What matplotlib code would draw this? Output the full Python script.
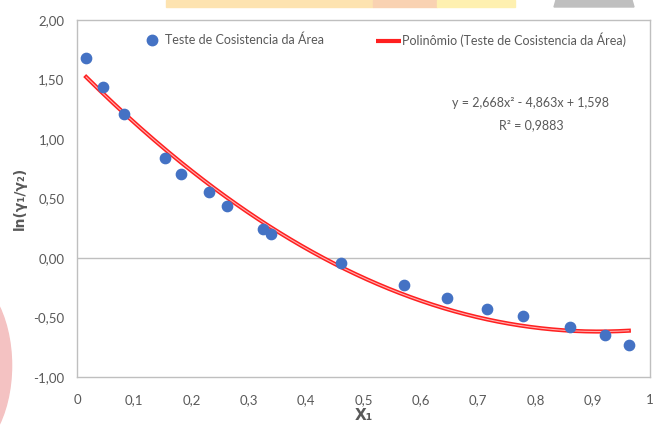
import numpy as np
import matplotlib.pyplot as plt
from matplotlib import font_manager
from matplotlib.patches import Rectangle, Ellipse, Polygon
from matplotlib.lines import Line2D

# data
x1 = [0.016, 0.045, 0.082, 0.154, 0.182, 0.230, 0.262, 0.325, 0.339,
      0.461, 0.571, 0.646, 0.716, 0.778, 0.860, 0.921, 0.963]
ln_ratio = [1.68, 1.44, 1.21, 0.84, 0.71, 0.555, 0.437, 0.24, 0.20,
            -0.04, -0.227, -0.336, -0.43, -0.49, -0.58, -0.647, -0.73]
# trendline coefficients shown on the chart (a*x^2 + b*x + c)
poly_coef = [2.668, -4.863, 1.598]
equation = "y = 2,668x² - 4,863x + 1,598"
r2_text = "R² = 0,9883"
series_name = "Teste de Cosistencia da Área"
trend_name = "Polinômio (Teste de Cosistencia da Área)"
xticks = [0, 0.1, 0.2, 0.3, 0.4, 0.5, 0.6, 0.7, 0.8, 0.9, 1.0]
xticklabels = ["0", "0,1", "0,2", "0,3", "0,4", "0,5", "0,6", "0,7", "0,8", "0,9", "1"]
yticks = [-1.0, -0.5, 0.0, 0.5, 1.0, 1.5, 2.0]
yticklabels = ["-1,00", "-0,50", "0,00", "0,50", "1,00", "1,50", "2,00"]

# Calibri-like narrow font if there is one
names = {f.name for f in font_manager.fontManager.ttflist}
if 'Liberation Sans Narrow' in names:
    main_font, fs = 'Liberation Sans Narrow', 10.5
else:
    main_font, fs = 'Lato', 9
plt.rcParams['font.family'] = [main_font, 'DejaVu Sans']
gray = '#595959'

fig = plt.figure(figsize=(6.62, 4.25), dpi=100)
W, H = 662.0, 425.0

# slide background decorations
def band(x0, x1_, color):
    fig.patches.append(Rectangle((x0 / W, 1 - 7 / H), (x1_ - x0) / W, 7 / H,
                                 transform=fig.transFigure, color=color, zorder=0))
band(166, 373, '#FDE3B0')
band(373, 437, '#F9D2B2')
band(437, 515, '#FEF0B0')
fig.patches.append(Polygon([(556 / W, 1.0), (632 / W, 1.0), (634 / W, 1 - 7 / H), (554 / W, 1 - 7 / H)],
                           closed=True, transform=fig.transFigure, color='#BFBFBF', zorder=0))
fig.patches.append(Ellipse((-0.065, 0.14), 0.165, 0.44, transform=fig.transFigure,
                           color='#F4C2C2', zorder=0))

ax = fig.add_axes([77 / W, 1 - 377 / H, 573 / W, 357 / H])
ax.set_facecolor('white')

ax.scatter(x1, ln_ratio, s=55, color='#4472C4', zorder=3)

xs = np.linspace(min(x1), max(x1), 200)
ys = np.polyval(poly_coef, xs)
ax.plot(xs, ys, color='#FF2020', lw=3, zorder=2)
ax.plot(xs, ys, color='#FFB0B0', lw=0.8, zorder=2)

ax.axhline(0, color='#BFBFBF', lw=1, zorder=1)

ax.set_xlim(0, 1)
ax.set_ylim(-1, 2)
ax.set_xticks(xticks)
ax.set_xticklabels(xticklabels)
ax.set_yticks(yticks)
ax.set_yticklabels(yticklabels)
ax.tick_params(length=0, labelsize=fs + 0.5, colors=gray)
ax.tick_params(axis='x', pad=12)
ax.tick_params(axis='y', pad=9)

for s in ax.spines.values():
    s.set_color('#BFBFBF')
    s.set_linewidth(1)

ax.set_xlabel('X₁', fontsize=11, fontweight='bold', color=gray, labelpad=2,
              family=['DejaVu Sans'])
ax.set_ylabel('ln(γ₁/γ₂)', fontsize=10, fontweight='bold', color=gray, labelpad=5,
              family=['DejaVu Sans'])

ax.text(0.792, 1.30, equation, fontsize=fs, color=gray, ha='center', va='center')
ax.text(0.792, 1.12, r2_text, fontsize=fs, color=gray, ha='center', va='center')

# legend entries placed separately, as in the original
h1 = Line2D([], [], ls='none', marker='o', ms=7.5, color='#4472C4')
h2 = Line2D([], [], color='#FF2020', lw=3)
leg1 = fig.legend([h1], [series_name], loc='center left', bbox_to_anchor=(139 / W, 1 - 40 / H),
                  frameon=False, fontsize=fs, borderpad=0, handlelength=1.0,
                  handletextpad=0.6, labelcolor=gray)
leg2 = fig.legend([h2], [trend_name], loc='center left', bbox_to_anchor=(370 / W, 1 - 40 / H),
                  frameon=False, fontsize=fs, borderpad=0, handlelength=2.0,
                  handletextpad=0.05, labelcolor=gray)
leg2.get_lines()[0].set_solid_capstyle('butt')

fig.savefig('out.png', dpi=100)
